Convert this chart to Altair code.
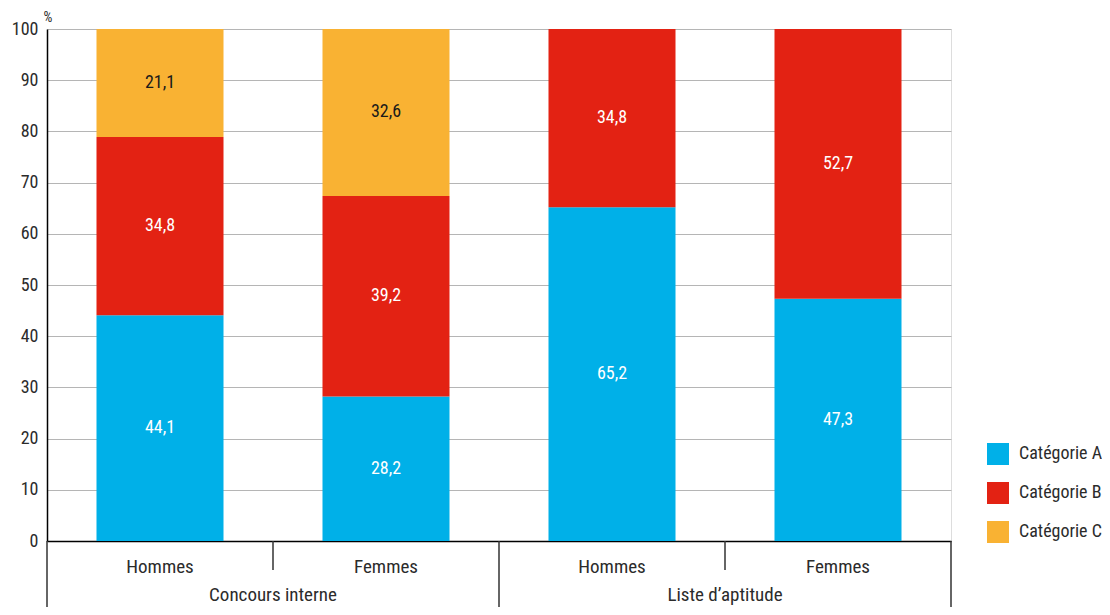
import altair as alt
import pandas as pd

groups = ["Concours interne", "Concours interne", "Liste d’aptitude", "Liste d’aptitude"]
sexes = ["Hommes", "Femmes", "Hommes", "Femmes"]
categories = ["Catégorie A", "Catégorie B", "Catégorie C"]
cat_a = [44.1, 28.2, 65.2, 47.3]
cat_b = [34.8, 39.2, 34.8, 52.7]
cat_c = [21.1, 32.6, None, None]
colors = ["#00B0E8", "#E32213", "#F9B233"]
text_colors = ["white", "white", "#1a1a1a"]
y_ticks = list(range(0, 101, 10))
unit_label = ["%"]

FONT = "Roboto Condensed, Roboto"
TXT = "#2b2b2b"

keys = [g + "|" + s for g, s in zip(groups, sexes)]
rows = []
for i, k in enumerate(keys):
    for j, vals in enumerate([cat_a, cat_b, cat_c]):
        v = vals[i]
        if v is None:
            continue
        rows.append({"key": k, "cat": categories[j], "order": j, "value": v,
                     "label": f"{v:.1f}".replace(".", ","), "tcolor": text_colors[j]})
df = pd.DataFrame(rows)

W, H = 904, 512

band_scale = alt.Scale(domain=keys, paddingInner=0.438, paddingOuter=0.219)
xband = alt.X("key:N", sort=keys, scale=band_scale,
              axis=alt.Axis(title=None, labelExpr="split(datum.label, '|')[1]",
                            ticks=False, domainColor="black", domainWidth=1.5,
                            labelAngle=0, labelPadding=16, labelFontSize=19,
                            labelColor=TXT, labelFont=FONT))

yscale = alt.Scale(domain=[0, 100], nice=False)

bars = alt.Chart(df).mark_bar().encode(
    x=xband,
    y=alt.Y("value:Q", stack="zero", scale=yscale,
            axis=alt.Axis(values=y_ticks, grid=True, gridColor="#b5b5b5", gridWidth=1,
                          domainColor="black", domainWidth=1.5, ticks=False,
                          labelPadding=9, labelFontSize=18, labelColor=TXT,
                          labelFont=FONT, title=None)),
    color=alt.Color("cat:N", scale=alt.Scale(domain=categories, range=colors),
                    legend=alt.Legend(title=None, orient="none", legendX=940, legendY=414,
                                      symbolType="square", symbolSize=484,
                                      symbolStrokeWidth=0, labelFontSize=18,
                                      labelOffset=10, rowPadding=17, labelColor=TXT,
                                      labelFont=FONT)),
    order=alt.Order("order:Q", sort="ascending"),
)

texts = alt.Chart(df).transform_stack(
    stack="value", groupby=["key"], as_=["y0", "y1"], sort=[alt.SortField("order")]
).transform_calculate(mid="(datum.y0 + datum.y1) / 2").mark_text(
    fontSize=18, font=FONT, baseline="middle"
).encode(
    x=alt.X("key:N", sort=keys, scale=band_scale),
    y=alt.Y("mid:Q", scale=yscale),
    text="label:N",
    color=alt.Color("tcolor:N", scale=None),
)

main = alt.layer(bars, texts)

# separators below the axis (on a 0..4 slot scale)
n = len(keys)
sep_short = pd.DataFrame({"pos": [i for i in range(n + 1) if i % 2 == 1]})
sep_long = pd.DataFrame({"pos": [i for i in range(n + 1) if i % 2 == 0]})
xq = alt.Scale(domain=[0, n], nice=False, zero=False)

rule_short = alt.Chart(sep_short).mark_rule(color="#333", strokeWidth=1.5).encode(
    x=alt.X("pos:Q", scale=xq, axis=None), y=alt.value(H), y2=alt.value(H + 29))
rule_long = alt.Chart(sep_long).mark_rule(color="#333", strokeWidth=1.5).encode(
    x=alt.X("pos:Q", scale=xq, axis=None), y=alt.value(H), y2=alt.value(H + 75))

uniq_groups = list(dict.fromkeys(groups))
gdf = pd.DataFrame({"group": uniq_groups,
                    "center": [groups.index(g) + groups.count(g) / 2 for g in uniq_groups]})
glabels = alt.Chart(gdf).mark_text(fontSize=19, font=FONT, color=TXT, baseline="alphabetic").encode(
    x=alt.X("center:Q", scale=xq, axis=None), y=alt.value(H + 60), text="group:N")

unit = alt.Chart(pd.DataFrame({"u": unit_label})).mark_text(
    fontSize=14, font=FONT, color=TXT, baseline="alphabetic", align="center"
).encode(x=alt.value(1), y=alt.value(-7), text="u:N")

chart = alt.layer(main, rule_short, rule_long, glabels, unit).resolve_scale(
    x="independent"
).properties(
    width=W, height=H,
    autosize=alt.AutoSizeParams(type="none"),
    padding={"left": 39, "top": 21, "right": 151, "bottom": 66},
).configure_view(stroke=None).configure(font=FONT)

chart.save("out.html", embed_options={"renderer": "svg", "actions": False})
